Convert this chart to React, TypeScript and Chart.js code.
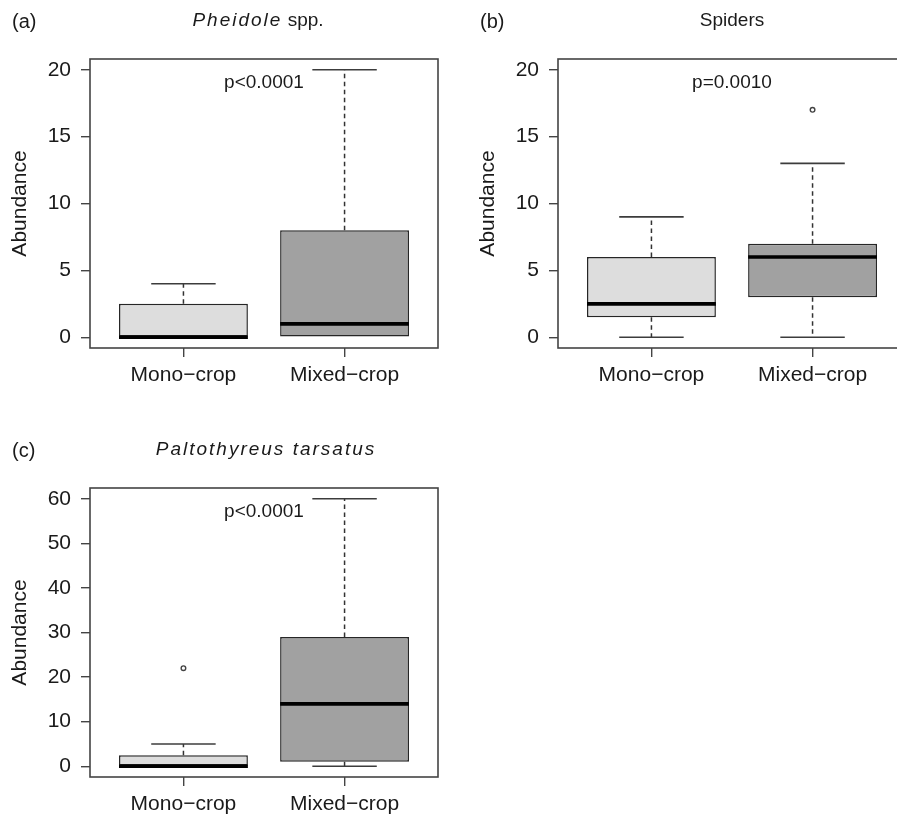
import React, { useEffect, useRef } from "react";
import { Chart, registerables } from "chart.js";

Chart.register(...registerables);

const FONT = '"Liberation Sans", Arial, Helvetica, sans-serif';
const TEXT = "#1a1a1a";

// ---- data ----
const groups = ["Mono\u2212crop", "Mixed\u2212crop"];
const groupPositions = [1, 2];

// [min, q1, median, q3, max]
const pheidoleMono = [0, 0, 0, 2.5, 4];
const pheidoleMixed = [0, 0, 1, 8, 20];
const spidersMono = [0, 1.5, 2.5, 6, 9];
const spidersMixed = [0, 3, 6, 7, 13];
const paltoMono = [0, 0, 0, 2.5, 5];
const paltoMixed = [0, 1, 14, 29, 60];

const pheidoleOutliers: number[][] = [[], []];
const spidersOutliers: number[][] = [[], [17]];
const paltoOutliers: number[][] = [[22], []];

const ticks20 = [0, 5, 10, 15, 20];
const ticks60 = [0, 10, 20, 30, 40, 50, 60];

const panelLetters = ["(a)", "(b)", "(c)"];
const titlesItalic = ["Pheidole", "", "Paltothyreus tarsatus"];
const titlesRoman = [" spp.", "Spiders", ""];
const pLabels = ["p<0.0001", "p=0.0010", "p<0.0001"];
const pLabelY = [19, 19, 57];
const yAxisMax = [20, 20, 60];
const yTickValues = [ticks20, ticks20, ticks60];
const panelStats = [
  [pheidoleMono, pheidoleMixed],
  [spidersMono, spidersMixed],
  [paltoMono, paltoMixed],
];
const panelOutliers = [pheidoleOutliers, spidersOutliers, paltoOutliers];

// ---- layout (styles) ----
const W = 468;
const H = 420;
const panelLeft = [0, 468, 0];
const panelTop = [0, 0, 429];
const titleShift = [-6, 0, 2];
const boxFills = ["#dddddd", "#a1a1a1"];

function makePlugin(idx: number) {
  return {
    id: "boxExtras" + idx,
    beforeDatasetsDraw(chart: any) {
      const { ctx, scales } = chart;
      const x = scales.x;
      const y = scales.y;
      ctx.save();
      panelStats[idx].forEach((s, i) => {
        const [mn, q1, , q3, mx] = s;
        const pos = groupPositions[i];
        const xc = x.getPixelForValue(pos);
        // whiskers (dashed)
        ctx.strokeStyle = "#333";
        ctx.lineWidth = 1.5;
        ctx.setLineDash([4.5, 3.5]);
        ctx.beginPath();
        if (mx > q3) {
          ctx.moveTo(xc, y.getPixelForValue(q3));
          ctx.lineTo(xc, y.getPixelForValue(mx));
        }
        if (q1 > mn) {
          ctx.moveTo(xc, y.getPixelForValue(q1));
          ctx.lineTo(xc, y.getPixelForValue(mn));
        }
        ctx.stroke();
        ctx.setLineDash([]);
        // caps
        const cw = x.getPixelForValue(pos + 0.2) - xc;
        ctx.strokeStyle = "#3c3c3c";
        ctx.lineWidth = 1.6;
        ctx.beginPath();
        if (mx > q3) {
          ctx.moveTo(xc - cw, y.getPixelForValue(mx));
          ctx.lineTo(xc + cw, y.getPixelForValue(mx));
        }
        if (q1 > mn) {
          ctx.moveTo(xc - cw, y.getPixelForValue(mn));
          ctx.lineTo(xc + cw, y.getPixelForValue(mn));
        }
        ctx.stroke();
      });
      ctx.restore();
    },
    afterDatasetsDraw(chart: any) {
      const { ctx, chartArea, scales } = chart;
      const x = scales.x;
      const y = scales.y;
      ctx.save();
      panelStats[idx].forEach((s, i) => {
        const md = s[2];
        const pos = groupPositions[i];
        const xc = x.getPixelForValue(pos);
        const bw = x.getPixelForValue(pos + 0.4) - xc;
        ctx.strokeStyle = "#000";
        ctx.lineWidth = 3.6;
        ctx.beginPath();
        ctx.moveTo(xc - bw, y.getPixelForValue(md));
        ctx.lineTo(xc + bw, y.getPixelForValue(md));
        ctx.stroke();
      });
      // frame
      ctx.strokeStyle = "#444";
      ctx.lineWidth = 1.6;
      ctx.strokeRect(
        chartArea.left,
        chartArea.top,
        chartArea.right - chartArea.left,
        chartArea.bottom - chartArea.top
      );
      ctx.restore();
    },
    afterDraw(chart: any) {
      const { ctx, chartArea, scales } = chart;
      ctx.save();
      ctx.fillStyle = TEXT;
      // panel letter
      ctx.font = `20px ${FONT}`;
      ctx.textAlign = "left";
      ctx.textBaseline = "alphabetic";
      ctx.fillText(panelLetters[idx], 12, 28);
      // title (italic part + roman part)
      const it = titlesItalic[idx];
      const ro = titlesRoman[idx];
      ctx.font = `italic 19px ${FONT}`;
      (ctx as any).letterSpacing = "2px";
      const wIt = it ? ctx.measureText(it).width : 0;
      ctx.font = `19px ${FONT}`;
      (ctx as any).letterSpacing = "0px";
      const wRo = ro ? ctx.measureText(ro).width : 0;
      const cx = (chartArea.left + chartArea.right) / 2 + titleShift[idx];
      let sx = cx - (wIt + wRo) / 2;
      if (it) {
        ctx.font = `italic 19px ${FONT}`;
        (ctx as any).letterSpacing = "2px";
        ctx.fillText(it, sx, 26);
        sx += wIt;
      }
      if (ro) {
        ctx.font = `19px ${FONT}`;
        (ctx as any).letterSpacing = "0px";
        ctx.fillText(ro, sx, 26);
      }
      (ctx as any).letterSpacing = "0px";
      // p-value
      ctx.font = `19px ${FONT}`;
      ctx.textAlign = "center";
      ctx.textBaseline = "middle";
      ctx.fillText(
        pLabels[idx],
        scales.x.getPixelForValue(1.5),
        scales.y.getPixelForValue(pLabelY[idx])
      );
      ctx.restore();
    },
  };
}

function Panel({ idx }: { idx: number }) {
  const ref = useRef<HTMLCanvasElement>(null);
  useEffect(() => {
    if (!ref.current) return;
    const ymax = yAxisMax[idx];
    const stats = panelStats[idx];
    const outl = panelOutliers[idx];
    const tickList = yTickValues[idx];
    const gridOpts = {
      drawOnChartArea: false,
      drawTicks: true,
      tickLength: 9,
      color: "#444",
      lineWidth: 1.4,
      offset: false,
    };
    const chart = new Chart(ref.current, {
      type: "bar",
      data: {
        datasets: [
          {
            type: "bar",
            data: stats.map((s, i) => ({ x: groupPositions[i], y: [s[1], s[3]] })),
            backgroundColor: boxFills,
            borderColor: "#262626",
            borderWidth: 1.5,
            borderSkipped: false,
            categoryPercentage: 1,
            barPercentage: 0.8,
            order: 2,
          } as any,
          {
            type: "scatter",
            data: outl.flatMap((arr, i) => arr.map((v) => ({ x: groupPositions[i], y: v }))),
            pointRadius: 2.3,
            pointBorderWidth: 1.4,
            pointBorderColor: "#444",
            pointBackgroundColor: "rgba(0,0,0,0)",
            order: 1,
          } as any,
        ],
      },
      options: {
        animation: false,
        responsive: false,
        layout: { padding: { left: 0, top: 59, right: W - 438, bottom: H - 348 - 50 } },
        plugins: {
          legend: { display: false },
          tooltip: { enabled: false },
          title: { display: false },
        },
        scales: {
          x: {
            type: "linear",
            min: 0.42,
            max: 2.58,
            bounds: "data",
            offset: false,
            afterBuildTicks: (s: any) => {
              s.ticks = groupPositions.map((v) => ({ value: v }));
            },
            afterFit: (s: any) => {
              s.height = 50;
            },
            ticks: {
              autoSkip: false,
              maxRotation: 0,
              minRotation: 0,
              padding: 6,
              color: TEXT,
              font: { family: FONT, size: 21 },
              callback: (v: any) => {
                const k = groupPositions.indexOf(Number(v));
                return k >= 0 ? groups[k] : "";
              },
            },
            grid: gridOpts,
            border: { display: false },
          },
          y: {
            type: "linear",
            min: -0.04 * ymax,
            max: 1.04 * ymax,
            bounds: "data",
            afterBuildTicks: (s: any) => {
              s.ticks = tickList.map((v) => ({ value: v }));
            },
            afterFit: (s: any) => {
              s.width = 90;
            },
            ticks: {
              padding: 10,
              color: TEXT,
              font: { family: FONT, size: 21 },
            },
            title: {
              display: true,
              text: "Abundance",
              color: TEXT,
              font: { family: FONT, size: 21 },
              padding: { top: 8, bottom: 0 },
            },
            grid: { ...gridOpts },
            border: { display: false },
          },
        },
      } as any,
      plugins: [makePlugin(idx)],
    });
    return () => chart.destroy();
  }, [idx]);
  return (
    <canvas
      ref={ref}
      width={W}
      height={H}
      style={{ position: "absolute", left: panelLeft[idx], top: panelTop[idx], width: W, height: H }}
    />
  );
}

export default function App() {
  return (
    <div
      style={{
        position: "absolute",
        left: 0,
        top: 0,
        width: 897,
        height: 818,
        overflow: "hidden",
        background: "#fff",
      }}
    >
      <Panel idx={0} />
      <Panel idx={1} />
      <Panel idx={2} />
    </div>
  );
}
